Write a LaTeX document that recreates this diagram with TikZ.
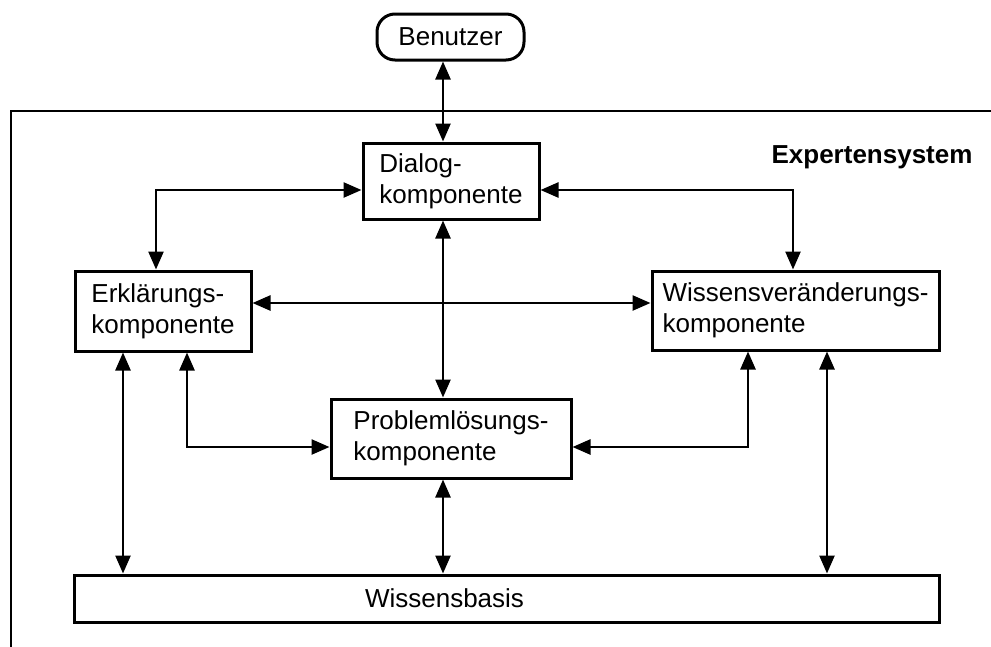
\documentclass[tikz,border=0pt]{standalone}
\usepackage{fontspec}
\setmainfont{Liberation Sans}
\usetikzlibrary{arrows.meta}

\begin{document}
\begin{tikzpicture}[x=1pt,y=-1pt,
    box/.style={draw,line width=3pt,align=left,inner sep=0pt,
      font=\fontsize{26}{31}\selectfont},
    conn/.style={line width=2.5pt,
      {Triangle[length=18pt,width=15pt]}-{Triangle[length=18pt,width=15pt]}}]
  \useasboundingbox (0,0) rectangle (991,646);
  %\draw[help lines,step=50] (0,0) grid (991,646);

  % outer frame, cut by the page edge
  \draw[line width=2.8pt] (995,111) -| (11,650);
  \node[anchor=base east,font=\fontsize{26}{31}\selectfont\bfseries] (titel) at (976,163) {Expertensystem};

  \node[box,rounded corners=18pt,minimum width=147pt,minimum height=46pt] (benutzer) at (450.5,37) {Benutzer};
  \node[box,minimum width=176pt,minimum height=76pt] (dialog) at (451,181) {Dialog-\\komponente};
  \node[box,minimum width=176pt,minimum height=80pt] (erkl) at (163,311) {Erklärungs-\\komponente};
  \node[box,minimum width=287pt,minimum height=79pt] (wissv) at (795.5,310.5) {Wissensveränderungs-\\komponente};
  \node[box,minimum width=240pt,minimum height=79pt] (problem) at (451,438.5) {Problemlösungs-\\komponente};
  \node[box,minimum width=865pt,minimum height=47pt,
    label={[font=\fontsize{26}{31}\selectfont,xshift=-62pt]center:Wissensbasis}] (basis) at (506.5,598.5) {};

  % knick- und lotpunkte
  \coordinate (mid) at (443,0);
  \coordinate (dl) at (156,190);
  \coordinate (dr) at (793,190);
  \coordinate (hy) at (0,303);
  \coordinate (l1) at (123,0);
  \coordinate (l2) at (187,447);
  \coordinate (r1) at (827,0);
  \coordinate (r2) at (748,447);

  \draw[conn] (benutzer.south -| mid) -- (dialog.north -| mid);
  \draw[conn] (dialog.south -| mid) -- (problem.north -| mid);
  \draw[conn] (problem.south -| mid) -- (basis.north -| mid);

  \draw[conn] (erkl.north -| dl) |- (dialog.west |- dl);
  \draw[conn] (dialog.east |- dr) -| (wissv.north -| dr);
  \draw[conn] (erkl.east |- hy) -- (wissv.west |- hy);

  \draw[conn] (erkl.south -| l1) -- (basis.north -| l1);
  \draw[conn] (erkl.south -| l2) |- (problem.west |- l2);
  \draw[conn] (wissv.south -| r2) |- (problem.east |- r2);
  \draw[conn] (wissv.south -| r1) -- (basis.north -| r1);
\end{tikzpicture}
\end{document}
